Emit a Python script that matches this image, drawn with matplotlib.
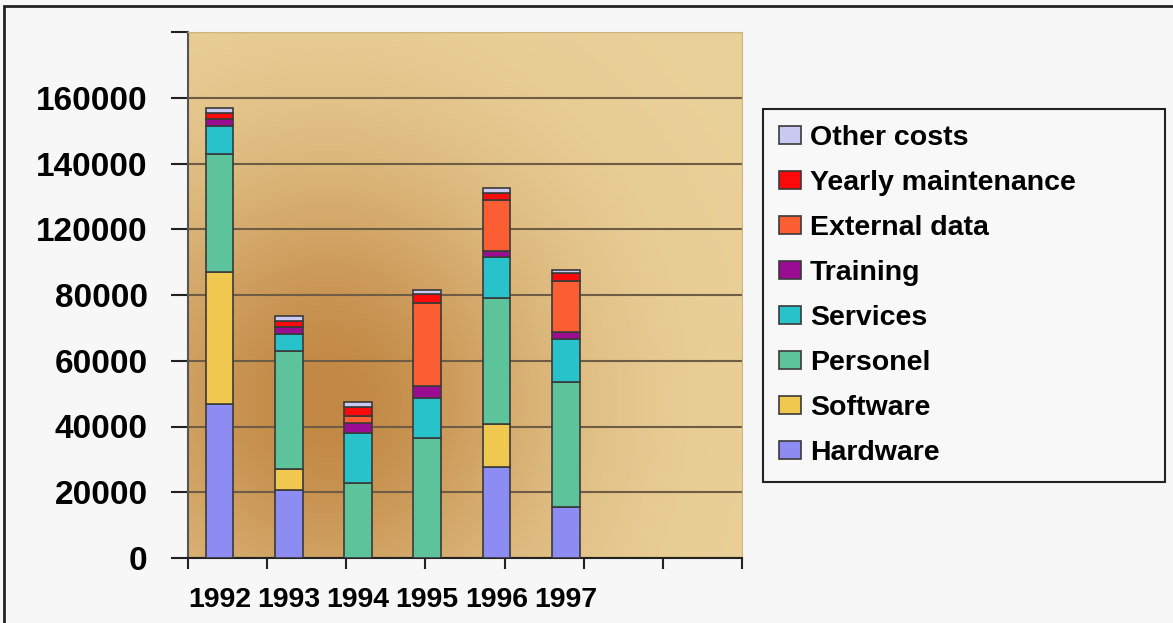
import numpy as np
import matplotlib
matplotlib.use("Agg")
import matplotlib.pyplot as plt
from matplotlib.patches import Rectangle

plt.rcParams['font.family'] = ['Liberation Sans', 'DejaVu Sans']
plt.rcParams['font.weight'] = 'bold'

# 数据（按图中读数估计）
years = ['1992', '1993', '1994', '1995', '1996', '1997']
categories = ['Hardware', 'Software', 'Personel', 'Services', 'Training',
              'External data', 'Yearly maintenance', 'Other costs']
hardware = [46800, 20700, 0, 0, 27600, 15400]
software = [40200, 6300, 0, 0, 13100, 0]
personel = [35900, 36100, 22900, 36600, 38400, 38200]
services = [8500, 5000, 15000, 12200, 12400, 12900]
training = [2200, 2100, 3200, 3650, 2000, 2300]
external_data = [0, 0, 2000, 25000, 15400, 15500]
yearly_maintenance = [1900, 2000, 2800, 2800, 2200, 2400]
other_costs = [1500, 1400, 1700, 1400, 1300, 1000]

y_ticks = [0, 20000, 40000, 60000, 80000, 100000, 120000, 140000, 160000]
y_tick_labels = ['0', '20000', '40000', '60000', '80000',
                 '120000', '140000', '160000', '']

series = [hardware, software, personel, services, training,
          external_data, yearly_maintenance, other_costs]
colors = ['#8c8cf2', '#f0c850', '#5cc39a', '#28c2ca', '#9a0c92',
          '#fb5e32', '#fa0a0a', '#c9c9f2']

W, H = 1173, 623
fig = plt.figure(figsize=(W / 100, H / 100), dpi=100)
fig.patch.set_facecolor('#f7f7f7')

# outer frame
fig.patches.append(Rectangle((4 / W, -0.05), 1.2, (H - 6) / H + 0.05,
                             transform=fig.transFigure, fill=False,
                             edgecolor='#222222', linewidth=2))

ax = fig.add_axes([188 / W, (H - 558) / H, (742 - 188) / W, (558 - 32) / H])

# background: golden gradient with darker blob
gx, gy = np.meshgrid(np.linspace(0, 1, 300), np.linspace(0, 1, 300))
blob = np.exp(-(((gx - 0.25) / 0.40) ** 2 + ((gy - 0.30) / 0.45) ** 2))
light = np.array([234, 209, 153]) / 255
dark = np.array([194, 136, 68]) / 255
img = light[None, None, :] * (1 - blob[..., None]) + dark[None, None, :] * blob[..., None]
ax.imshow(img, extent=(0, 8, 0, 160000), origin='lower', aspect='auto', zorder=0)

x = np.arange(len(years)) + 0.455
bottom = np.zeros(len(years))
for name, vals, c in zip(categories, series, colors):
    ax.bar(x, vals, width=0.40, bottom=bottom, color=c, edgecolor='#3a3a3a',
           linewidth=1.2, label=name, zorder=3)
    bottom += np.array(vals)

ax.set_xlim(0, 8)
ax.set_ylim(0, 160000)
ax.set_yticks(y_ticks)
ax.set_yticklabels(y_tick_labels)
ax.yaxis.grid(True, color='#6e5c44', linewidth=1.5, zorder=1)
ax.set_axisbelow(True)

ax.set_xticks(x)
ax.set_xticklabels(years)
ax.set_xticks(np.linspace(0, 8, 8), minor=True)
ax.tick_params(axis='x', which='major', length=0, pad=21, labelsize=20.5)
ax.tick_params(axis='x', which='minor', length=8, width=1.5, color='#222222')
ax.tick_params(axis='y', length=12, width=1.5, pad=17, labelsize=24,
               color='#222222')

ax.spines['left'].set_color('#555555')
ax.spines['left'].set_linewidth(1.5)
ax.spines['bottom'].set_color('#222222')
ax.spines['bottom'].set_linewidth(1.5)
ax.spines['top'].set_color('#cdb57c')
ax.spines['right'].set_color('#cdb57c')

handles, labels = ax.get_legend_handles_labels()
leg = fig.legend(handles[::-1], labels[::-1], loc='upper left',
                 bbox_to_anchor=(763 / W, (H - 478) / H, 402 / W, 369 / H),
                 mode='expand', borderaxespad=0, fontsize=20.5,
                 handlelength=0.8, handleheight=0.6, handletextpad=0.3,
                 labelspacing=0.67, borderpad=0.55, fancybox=False,
                 framealpha=1, facecolor='#f8f8f8', edgecolor='#222222')
leg.get_frame().set_linewidth(1.5)

fig.savefig('out.png', dpi=100, facecolor=fig.get_facecolor())
